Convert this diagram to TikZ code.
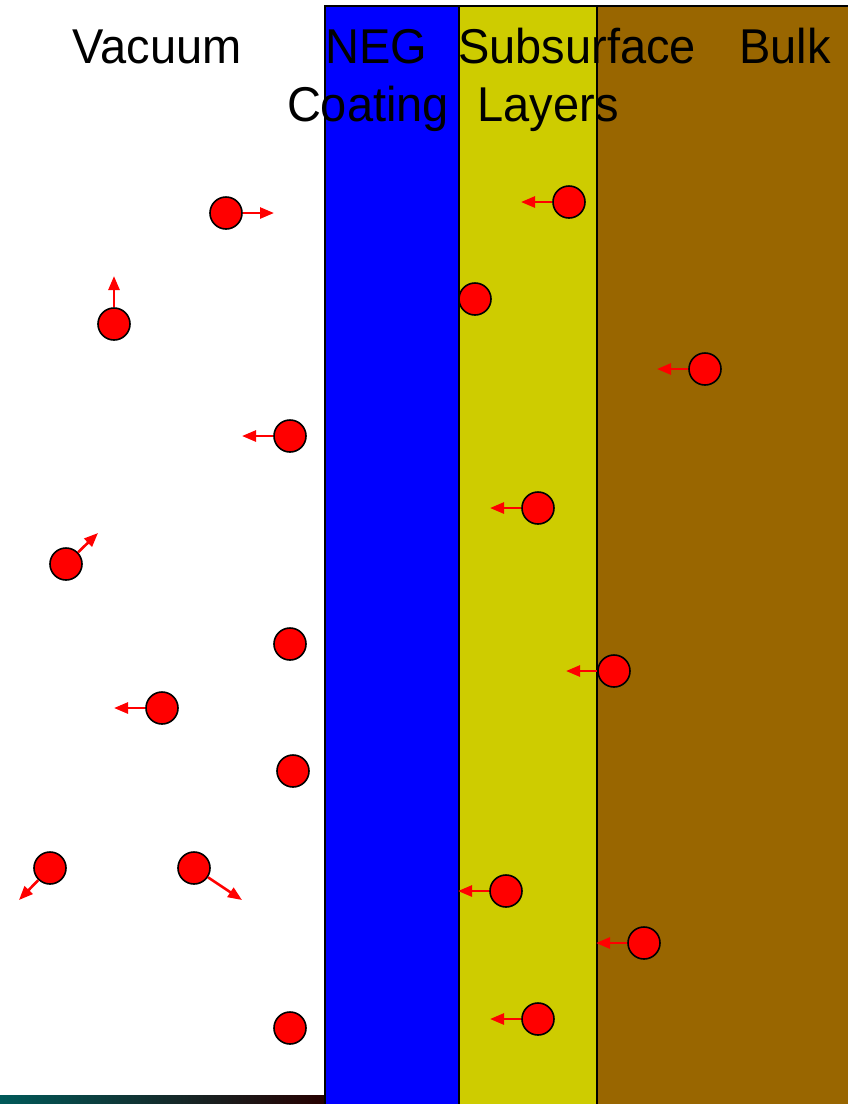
\documentclass[tikz,border=0pt]{standalone}
\usepackage{fontspec}
\setmainfont{Liberation Sans}
\usetikzlibrary{arrows.meta}
\definecolor{negblue}{RGB}{0,0,255}
\definecolor{subyellow}{RGB}{206,204,0}
\definecolor{bulkbrown}{RGB}{153,102,0}

\begin{document}
\begin{tikzpicture}[
    x=1pt, y=-1pt,
    layer/.style={fill=#1, draw=black, line width=2pt},
    mol/.style={circle, fill=red, draw=black, line width=1.6pt, minimum size=32pt, inner sep=0pt},
    vel/.style={draw=red, line width=2.6pt, -{Triangle[length=14pt, width=11pt]}},
    title/.style={font=\fontsize{47}{56}\selectfont, anchor=base, inner sep=0pt, yscale=1.04}
]
    \useasboundingbox (0,0) rectangle (848,1104);

    % Remnant of the slide background
    \shade[left color=teal!70!black, middle color=black, right color=red!15!black]
        (0,1095) rectangle (324,1104);

    % Layers
    \filldraw[layer=negblue] (325,6) rectangle (459,1110);
    \filldraw[layer=subyellow] (459,6) rectangle (597,1110);
    \filldraw[layer=bulkbrown] (597,6) rectangle (850,1110);

    % Headings
    \node[title] (vac) at (157,63) {Vacuum};
    \node[title] (neg) at (376,63) {NEG};
    \node[title] (coat) at (368,121) {Coating};
    \node[title] (sub) at (577,63) {Subsurface};
    \node[title] (lay) at (548,121) {Layers};
    \node[title] (bulk) at (785,63) {Bulk};

    % Gas molecules in the vacuum
    \node[mol] (v1) at (226,213) {};
    \node[mol] (v2) at (114,324) {};
    \node[mol] (v3) at (290,436) {};
    \node[mol] (v4) at (66,564) {};
    \node[mol] (v5) at (290,644) {};
    \node[mol] (v6) at (162,708) {};
    \node[mol] (v7) at (293,771) {};
    \node[mol] (v8) at (50,868) {};
    \node[mol] (v9) at (194,868) {};
    \node[mol] (v10) at (290,1028) {};
    \coordinate (v1t) at (274,213);
    \coordinate (v2t) at (114,276);
    \coordinate (v3t) at (242,436);
    \coordinate (v4t) at (98,533);
    \coordinate (v6t) at (114,708);
    \coordinate (v8t) at (19,900);
    \coordinate (v9t) at (242,900);
    \draw[vel] (v1) -- (v1t);
    \draw[vel] (v2) -- (v2t);
    \draw[vel] (v3) -- (v3t);
    \draw[vel] (v4) -- (v4t);
    \draw[vel] (v6) -- (v6t);
    \draw[vel] (v8) -- (v8t);
    \draw[vel] (v9) -- (v9t);

    % Molecules diffusing in the subsurface layers
    \node[mol] (s1) at (569,202) {};
    \node[mol] (s2) at (475,299) {};
    \node[mol] (s3) at (538,508) {};
    \node[mol] (s4) at (614,671) {};
    \node[mol] (s5) at (506,891) {};
    \node[mol] (s6) at (538,1019) {};
    \coordinate (s1t) at (521,202);
    \coordinate (s3t) at (490,508);
    \coordinate (s4t) at (566,671);
    \coordinate (s5t) at (458,891);
    \coordinate (s6t) at (490,1019);
    \draw[vel] (s1) -- (s1t);
    \draw[vel] (s3) -- (s3t);
    \draw[vel] (s4) -- (s4t);
    \draw[vel] (s5) -- (s5t);
    \draw[vel] (s6) -- (s6t);

    % Molecules in the bulk
    \node[mol] (b1) at (705,369) {};
    \node[mol] (b2) at (644,943) {};
    \coordinate (b1t) at (657,369);
    \coordinate (b2t) at (596,943);
    \draw[vel] (b1) -- (b1t);
    \draw[vel] (b2) -- (b2t);
\end{tikzpicture}
\end{document}
